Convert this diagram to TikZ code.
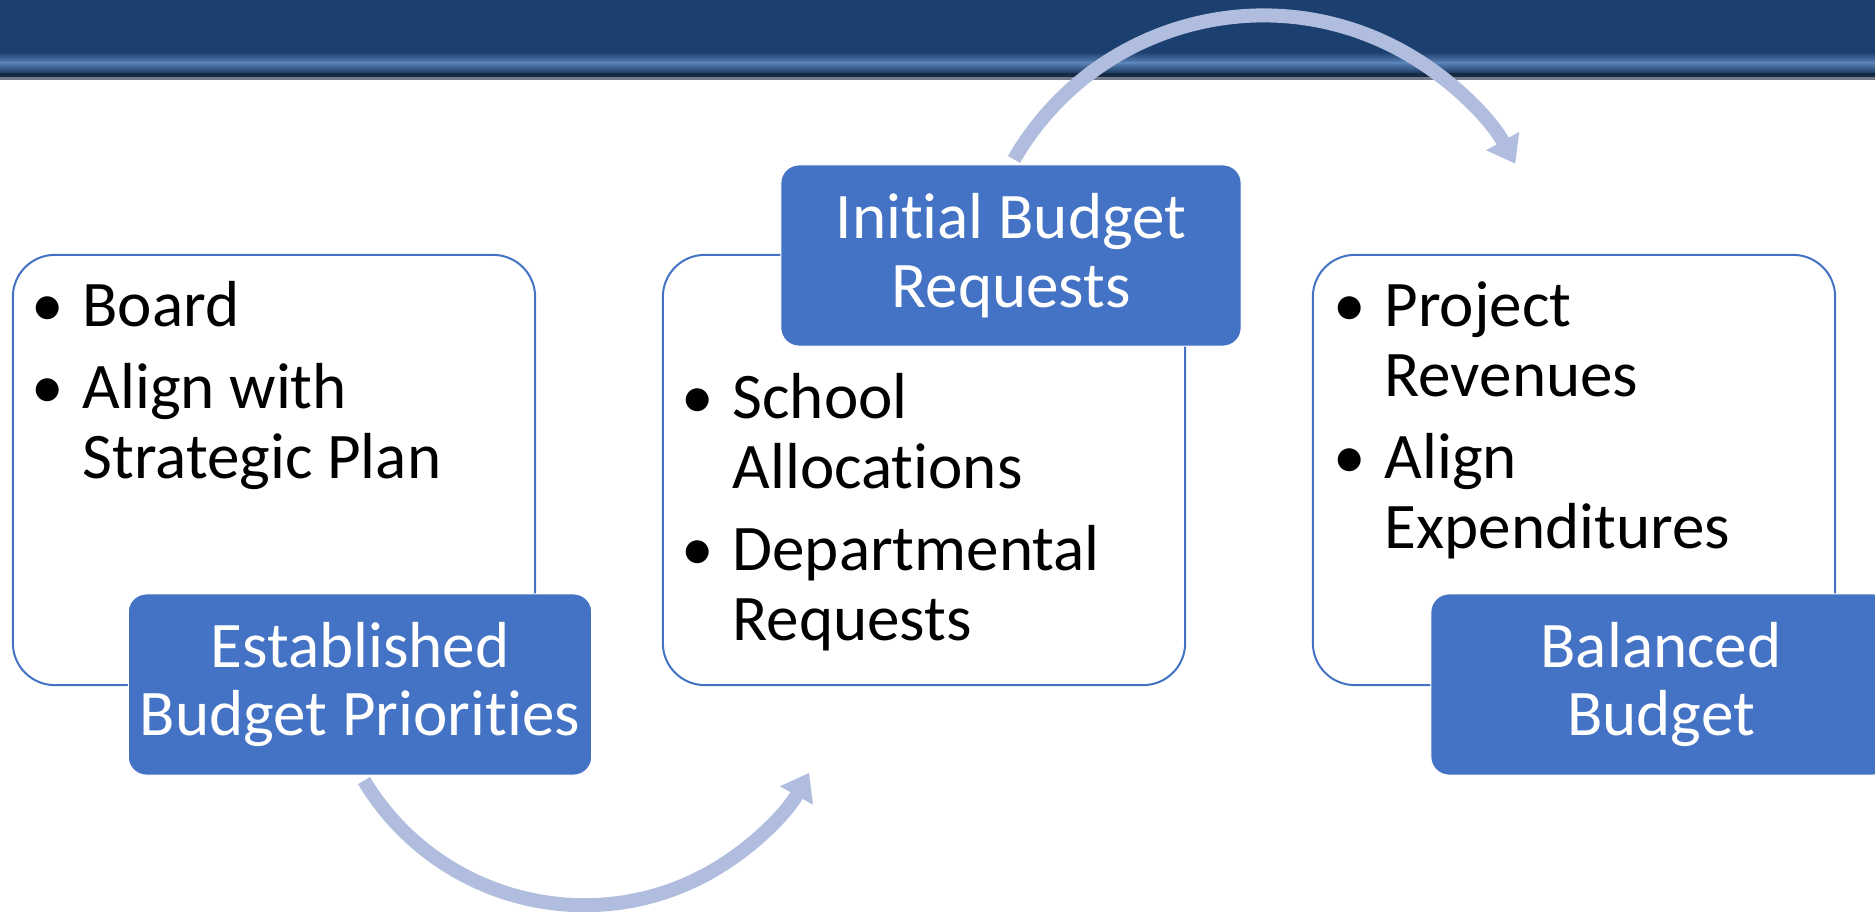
\documentclass[tikz,border=0pt]{standalone}
\usepackage{fontspec}
\setmainfont{Carlito}[Ligatures=NoCommon]
\usetikzlibrary{arrows.meta,calc}

\definecolor{navy}{RGB}{27,63,110}
\definecolor{bandlight}{RGB}{92,132,184}
\definecolor{bandedge}{RGB}{24,42,66}
\definecolor{bandgray}{RGB}{112,122,136}
\definecolor{boxblue}{RGB}{68,114,196}
\definecolor{arrowblue}{RGB}{176,189,222}

\newcommand{\itemfont}{\fontsize{18.5pt}{19.9pt}\selectfont}
\newcommand{\labelfont}{\fontsize{18.5pt}{19.6pt}\selectfont}
\newcommand{\itemsetup}{\raggedright\spaceskip=\fontdimen2\font\relax
  \parfillskip=0pt plus 1fil\relax\setlength{\parskip}{0.12cm}}
\newcommand{\bitem}{\leavevmode\llap{\textbullet\hspace{0.19cm}}}

\tikzset{
  outerbox/.style={draw=boxblue, line width=0.02cm, fill=white, rounded corners=0.42cm,
    minimum width=5.22cm, minimum height=4.3cm, inner sep=0pt},
  headbox/.style={draw=white, line width=0.01cm, fill=boxblue, rounded corners=0.18cm,
    minimum width=4.6cm, minimum height=1.81cm, text=white, align=center, font=\labelfont},
  itemlist/.style={anchor=base west, text width=4.4cm, inner sep=0pt, font=\itemfont},
  flowarrow/.style={draw=arrowblue, line width=0.14cm, -{Triangle[width=0.36cm,length=0.26cm]}}
}

\begin{document}
\begin{tikzpicture}[x=0.01cm,y=-0.01cm]
\clip (0,0) rectangle (1875,912);

% banner
\fill[navy] (0,0) rectangle (1875,53);
\shade[top color=navy, bottom color=bandlight] (0,52) rectangle (1875,63);
\shade[top color=bandlight, bottom color=navy!85!black] (0,62.5) rectangle (1875,73.5);
\fill[bandedge] (0,73) rectangle (1875,77);
\fill[bandgray] (0,77) rectangle (1875,80);

% boxes
\node[outerbox] (leftbox) at (274,470) {};
\node[outerbox] (midbox) at (924,470) {};
\node[outerbox] (rightbox) at (1574,470) {};

\node[itemlist] (lefttext) at ($(leftbox.north west)+(70,73)$)
  {\itemsetup\bitem Board\par\bitem Align with\newline Strategic Plan};
\node[itemlist] (midtext) at ($(midbox.north west)+(70,165)$)
  {\itemsetup\bitem School\newline Allocations\par\bitem Departmental\newline Requests};
\node[itemlist] (righttext) at ($(rightbox.north west)+(72,73)$)
  {\itemsetup\bitem Project\newline Revenues\par\bitem Align\newline Expenditures};

% labels
\node[headbox] (leftlab) at (360,684.5) {Established\\Budget Priorities};
\node[headbox] (midlab) at (1011,255.5) {Initial Budget\\Requests};
\node[headbox] (rightlab) at (1661,684.5) {Balanced\\Budget};

% arrows
\draw[flowarrow] ($(leftlab.south)+(4,5)$) arc[start angle=149, end angle=29, radius=257];
\draw[flowarrow] ($(midlab.north)+(3,-5)$) arc[start angle=-150, end angle=-29, radius=288];

\end{tikzpicture}
\end{document}
